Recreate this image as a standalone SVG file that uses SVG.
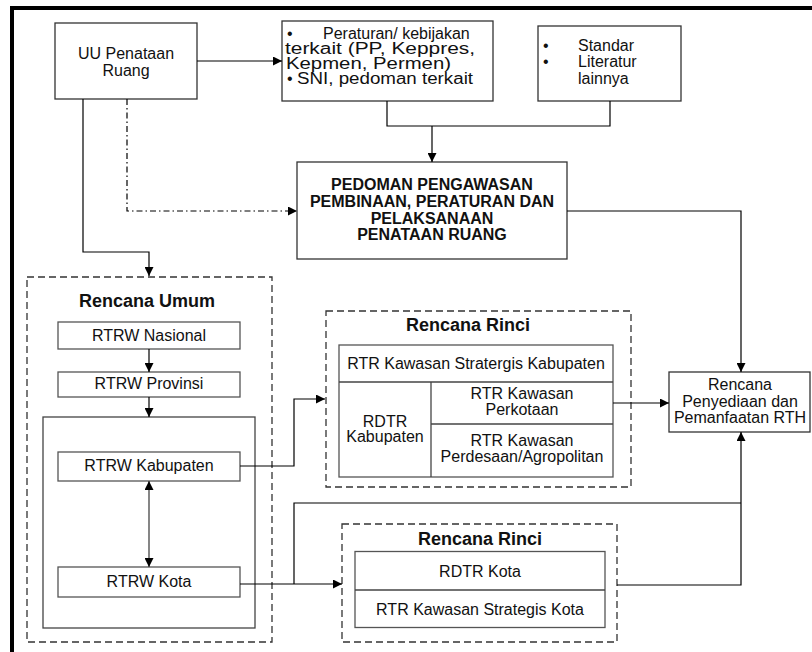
<svg xmlns="http://www.w3.org/2000/svg" width="812" height="652" viewBox="0 0 812 652">
<defs>
<marker id="arr" viewBox="0 0 10 10" refX="10" refY="5" markerWidth="10" markerHeight="9" markerUnits="userSpaceOnUse" orient="auto-start-reverse">
<path d="M0,0 L10,5 L0,10 z" fill="#000"/>
</marker>
<style>
.box{fill:#fff;stroke:#333;stroke-width:1.3}
.gbox{fill:#fff;stroke:#555;stroke-width:1.3}
.open{fill:none;stroke:#444;stroke-width:1.3}
.dbox{fill:none;stroke:#333;stroke-width:1.3;stroke-dasharray:7 4}
.sep{stroke:#444;stroke-width:1.3}
.t{font-family:"Liberation Sans",Arial,sans-serif;font-size:16px;fill:#111}
.c{text-anchor:middle}
.b{font-weight:bold}
.h{font-family:"Liberation Sans",Arial,sans-serif;font-size:18px;font-weight:bold;fill:#111;text-anchor:middle}
.ln{fill:none;stroke:#000;stroke-width:1.2}
.arw{marker-end:url(#arr)}
</style>
</defs>
<rect width="812" height="652" fill="#fff"/>
<g id="frame">
<line x1="10" y1="8" x2="812" y2="8" stroke="#000" stroke-width="4"/>
<line x1="12" y1="6" x2="12" y2="652" stroke="#000" stroke-width="4"/>
</g>

<g id="uu">
<rect class="box" x="55" y="23" width="142" height="76"/>
<text class="t c"><tspan x="126" y="59">UU Penataan</tspan><tspan x="126" y="76">Ruang</tspan></text>
</g>

<g id="peraturan">
<rect class="box" x="282" y="21" width="211" height="80"/>
<text class="t"><tspan x="287" y="39">•</tspan><tspan x="323" y="39">Peraturan/ kebijakan</tspan><tspan x="285" y="54" textLength="190" lengthAdjust="spacingAndGlyphs">terkait (PP, Keppres,</tspan><tspan x="286" y="69" textLength="165" lengthAdjust="spacingAndGlyphs">Kepmen, Permen)</tspan><tspan x="287" y="84">•</tspan><tspan x="297" y="84" textLength="176" lengthAdjust="spacingAndGlyphs">SNI, pedoman terkait</tspan></text>
</g>

<g id="standar">
<rect class="box" x="538" y="26" width="143" height="75"/>
<text class="t"><tspan x="543" y="50.5">•</tspan><tspan x="578" y="50.5">Standar</tspan><tspan x="543" y="67">•</tspan><tspan x="578" y="67">Literatur</tspan><tspan x="578" y="83.5">lainnya</tspan></text>
</g>

<g id="pedoman">
<rect class="box" x="297" y="162" width="270" height="97"/>
<text class="t c b"><tspan x="432" y="190">PEDOMAN PENGAWASAN</tspan><tspan x="432" y="207">PEMBINAAN, PERATURAN DAN</tspan><tspan x="432" y="223.5">PELAKSANAAN</tspan><tspan x="432" y="240">PENATAAN RUANG</tspan></text>
</g>

<g id="rencana-umum">
<rect class="dbox" x="27" y="277" width="245" height="365"/>
<text class="h" x="147" y="307">Rencana Umum</text>
</g>

<g id="rtrw-nasional">
<rect class="gbox" x="58" y="322" width="182" height="27"/>
<text class="t c" x="149" y="341">RTRW Nasional</text>
</g>

<g id="rtrw-provinsi">
<rect class="gbox" x="58" y="372" width="182" height="25"/>
<text class="t c" x="149" y="389">RTRW Provinsi</text>
</g>

<g id="kab-kota-group">
<rect class="open" x="43" y="417" width="212" height="211"/>
</g>

<g id="rtrw-kabupaten">
<rect class="gbox" x="58" y="452" width="182" height="29"/>
<text class="t c" x="149" y="471">RTRW Kabupaten</text>
</g>

<g id="rtrw-kota">
<rect class="gbox" x="58" y="567" width="182" height="30"/>
<text class="t c" x="149" y="587">RTRW Kota</text>
</g>

<g id="rencana-rinci-kab">
<rect class="dbox" x="326" y="311" width="305" height="176"/>
<text class="h" x="468" y="331">Rencana Rinci</text>
<rect class="gbox" x="339" y="345" width="274" height="132"/>
<line class="sep" x1="339" y1="382" x2="613" y2="382"/>
<line class="sep" x1="431" y1="382" x2="431" y2="477"/>
<line class="sep" x1="431" y1="424" x2="613" y2="424"/>
<text class="t c" x="476" y="369">RTR Kawasan Stratergis Kabupaten</text>
<text class="t c"><tspan x="385" y="427">RDTR</tspan><tspan x="385" y="442">Kabupaten</tspan></text>
<text class="t c"><tspan x="522" y="399">RTR Kawasan</tspan><tspan x="522" y="415">Perkotaan</tspan></text>
<text class="t c"><tspan x="522" y="446">RTR Kawasan</tspan><tspan x="522" y="461.5">Perdesaan/Agropolitan</tspan></text>
</g>

<g id="rencana-rth">
<rect class="box" x="669" y="372" width="141" height="60"/>
<text class="t c"><tspan x="740" y="390">Rencana</tspan><tspan x="740" y="407">Penyediaan dan</tspan><tspan x="740" y="423">Pemanfaatan RTH</tspan></text>
</g>

<g id="rencana-rinci-kota">
<rect class="dbox" x="342" y="524" width="275" height="118"/>
<text class="h" x="480" y="545">Rencana Rinci</text>
<rect class="gbox" x="355" y="551.5" width="250" height="76"/>
<line class="sep" x1="355" y1="590" x2="605" y2="590"/>
<text class="t c" x="480" y="577">RDTR Kota</text>
<text class="t c" x="480" y="615">RTR Kawasan Strategis Kota</text>
</g>

<g id="connectors">
<path class="ln arw" d="M197,61 H282"/>
<path class="ln" d="M387,101 V126 H610 V101"/>
<path class="ln arw" d="M432,126 V162"/>
<path class="ln arw" d="M127,99 V211 H297" stroke-dasharray="6 3 1.5 3"/>
<path class="ln arw" d="M83,99 V252 H149 V276"/>
<path class="ln arw" d="M149,349 V372"/>
<path class="ln arw" d="M149,397 V417"/>
<path d="M149,481 V567" style="fill:none;stroke:#444;stroke-width:1.3;marker-start:url(#arr);marker-end:url(#arr)"/>
<path class="ln arw" d="M240,466 H294 V399 H325"/>
<path class="ln arw" d="M613,403 H669"/>
<path class="ln arw" d="M567,211 H741 V372"/>
<path class="ln arw" d="M240,584 H342"/>
<path class="ln" d="M294,584 V503 H741"/>
<path class="ln arw" d="M617,585 H741 V432"/>
</g>
</svg>
